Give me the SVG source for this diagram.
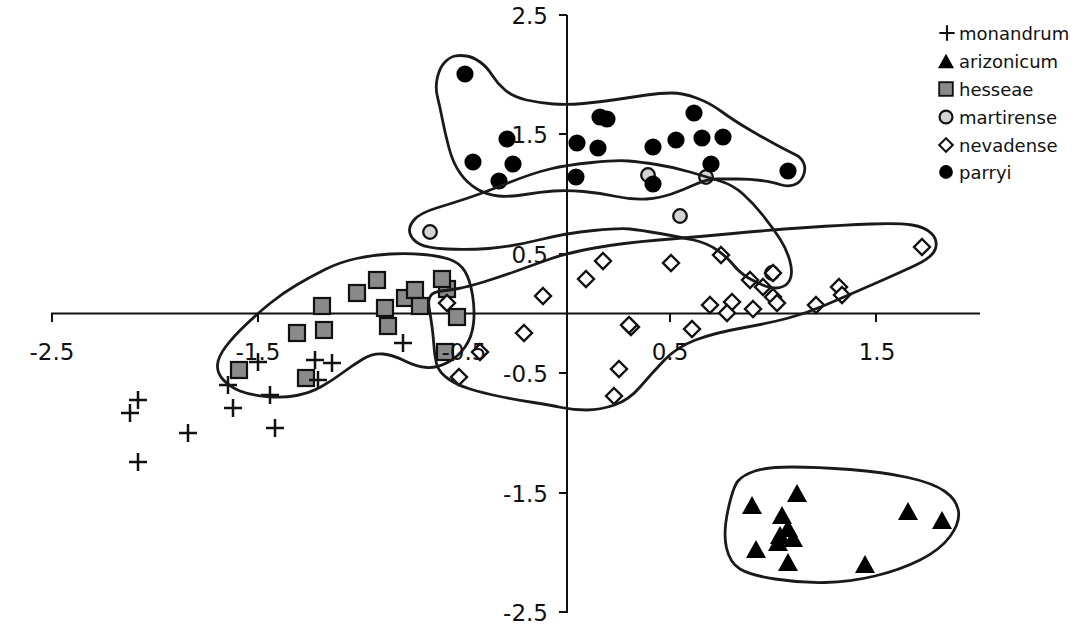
<svg xmlns="http://www.w3.org/2000/svg" xmlns:xlink="http://www.w3.org/1999/xlink" width="1083" height="629" viewBox="0 0 1083 629">
<style>
.ax{stroke:#111;stroke-width:2;fill:none}
.lbl{font-family:"DejaVu Sans","Liberation Sans",sans-serif;font-size:23px;fill:#111}
.leg{font-family:"DejaVu Sans","Liberation Sans",sans-serif;font-size:18px;fill:#111}
.hull{fill:none;stroke:#1a1a1a;stroke-width:2.8;stroke-linejoin:round}
</style>
<defs>
<path id="cross" d="M-9,0H9M0,-9V9" stroke="#111" stroke-width="2.5" fill="none"/>
<polygon id="tri" points="0,-9 10,9 -10,9" fill="#000"/>
<rect id="sq" x="-8" y="-8" width="16" height="16" fill="#8a8a8a" stroke="#111" stroke-width="2.2"/>
<circle id="mc" r="6.8" fill="#d4d4d4" stroke="#111" stroke-width="2.3"/>
<polygon id="dia" points="0,-8 8,0 0,8 -8,0" fill="#fff" stroke="#111" stroke-width="2.4"/>
<circle id="dot" r="8.6" fill="#000"/>
</defs>
<rect width="1083" height="629" fill="#fff"/>
<g id="axes">
<path class="ax" d="M51,313.5H980M52,313.5V322M258,313.5V322M464,313.5V322M670,313.5V322M876,313.5V322"/>
<path class="ax" d="M567,15V613M559,15H567M559,134H567M559,254H567M559,373H567M559,493H567M559,612H567"/>
</g>
<g id="series-hesseae">
<use href="#sq" x="239" y="370"/><use href="#sq" x="297" y="333"/><use href="#sq" x="324" y="330"/><use href="#sq" x="322" y="306"/><use href="#sq" x="306" y="378"/><use href="#sq" x="357" y="293"/><use href="#sq" x="377" y="280"/><use href="#sq" x="385" y="308"/><use href="#sq" x="388" y="326"/><use href="#sq" x="405" y="298"/><use href="#sq" x="415" y="290"/><use href="#sq" x="420" y="306"/><use href="#sq" x="447" y="289"/><use href="#sq" x="442" y="279"/><use href="#sq" x="457" y="317"/><use href="#sq" x="445" y="352"/>
</g>
<g id="series-monandrum">
<use href="#cross" x="138" y="400"/><use href="#cross" x="130" y="413"/><use href="#cross" x="188" y="433"/><use href="#cross" x="138" y="462"/><use href="#cross" x="233" y="408"/><use href="#cross" x="228" y="385"/><use href="#cross" x="258" y="362"/><use href="#cross" x="275" y="428"/><use href="#cross" x="270" y="395"/><use href="#cross" x="315" y="360"/><use href="#cross" x="332" y="363"/><use href="#cross" x="318" y="380"/><use href="#cross" x="403" y="343"/>
</g>
<g id="series-arizonicum">
<use href="#tri" x="752" y="505"/><use href="#tri" x="797" y="493"/><use href="#tri" x="782" y="515"/><use href="#tri" x="788" y="528"/><use href="#tri" x="780" y="535"/><use href="#tri" x="793" y="538"/><use href="#tri" x="778" y="542"/><use href="#tri" x="756" y="549"/><use href="#tri" x="788" y="562"/><use href="#tri" x="865" y="564"/><use href="#tri" x="908" y="511"/><use href="#tri" x="942" y="520"/>
</g>
<g id="series-martirense">
<use href="#mc" x="430" y="232"/><use href="#mc" x="680" y="216"/><use href="#mc" x="648" y="175"/><use href="#mc" x="706" y="177"/><use href="#mc" x="772" y="273"/>
</g>
<g id="series-nevadense">
<use href="#dia" x="447" y="303"/><use href="#dia" x="480" y="352"/><use href="#dia" x="459" y="377"/><use href="#dia" x="524" y="333"/><use href="#dia" x="543" y="296"/><use href="#dia" x="586" y="279"/><use href="#dia" x="603" y="261"/><use href="#dia" x="671" y="263"/><use href="#dia" x="721" y="255"/><use href="#dia" x="750" y="280"/><use href="#dia" x="763" y="287"/><use href="#dia" x="773" y="297"/><use href="#dia" x="777" y="303"/><use href="#dia" x="773" y="273"/><use href="#dia" x="710" y="305"/><use href="#dia" x="732" y="302"/><use href="#dia" x="727" y="313"/><use href="#dia" x="753" y="309"/><use href="#dia" x="816" y="305"/><use href="#dia" x="839" y="287"/><use href="#dia" x="842" y="295"/><use href="#dia" x="922" y="247"/><use href="#dia" x="631" y="327"/><use href="#dia" x="629" y="325"/><use href="#dia" x="692" y="329"/><use href="#dia" x="619" y="369"/><use href="#dia" x="614" y="396"/>
</g>
<g id="series-parryi">
<use href="#dot" x="465" y="74"/><use href="#dot" x="507" y="139"/><use href="#dot" x="473" y="162"/><use href="#dot" x="513" y="164"/><use href="#dot" x="499" y="181"/><use href="#dot" x="577" y="143"/><use href="#dot" x="576" y="177"/><use href="#dot" x="600" y="117"/><use href="#dot" x="607" y="119"/><use href="#dot" x="598" y="148"/><use href="#dot" x="653" y="147"/><use href="#dot" x="676" y="140"/><use href="#dot" x="694" y="113"/><use href="#dot" x="702" y="138"/><use href="#dot" x="723" y="137"/><use href="#dot" x="711" y="164"/><use href="#dot" x="788" y="171"/><use href="#dot" x="653" y="184"/>
</g>
<g id="hulls">
<path id="hull-parryi" class="hull" d="M455,56 Q460,55 466.5,56 Q473,57 480,62 Q487,67 492,75 Q497,83 505,90 Q513,97 526.5,100 Q540,103 553.5,104 Q567,105 583.5,103.5 Q600,102 616.5,99.5 Q633,97 646.5,95 Q660,93 671.5,93 Q683,93 696.5,98 Q710,103 721.5,111.5 Q733,120 750,130 Q767,140 778.5,146 Q790,152 796,155 Q802,158 804,164 Q806,170 803,176.5 Q800,183 793.5,185 Q787,187 780,184.5 Q773,182 761.5,180.5 Q750,179 738.5,179 Q727,179 717,179 Q707,179 695,184.5 Q683,190 671.5,194 Q660,198 646.5,199 Q633,200 616.5,196.5 Q600,193 583.5,191.5 Q567,190 553.5,191 Q540,192 525,194.5 Q510,197 498.5,196 Q487,195 477,189 Q467,183 460,173 Q453,163 449,148 Q445,133 442.5,120 Q440,107 437.5,97 Q435,87 437.5,77 Q440,67 445,62 Q450,57 455,56 Z"/>
<path id="hull-martirense" class="hull" d="M410,233.5 Q408,227 414,220 Q420,213 436.5,208 Q453,203 468,198 Q483,193 508,183 Q533,173 550,169 Q567,165 592,162.5 Q617,160 628.5,161 Q640,162 656.5,164.5 Q673,167 690,172 Q707,177 720,181 Q733,185 743,194 Q753,203 763,215.5 Q773,228 780,239 Q787,250 790,261.5 Q793,273 790,279.5 Q787,286 780,287.5 Q773,289 765,286 Q757,283 748.5,278 Q740,273 733.5,265 Q727,257 717,250 Q707,243 693.5,240 Q680,237 660,233.5 Q640,230 630,229 Q620,228 593.5,230.5 Q567,233 538.5,240 Q510,247 488.5,248.5 Q467,250 447,249 Q427,248 419.5,244 Q412,240 410,233.5 Z"/>
<path id="hull-hesseae" class="hull" d="M217.5,365 Q218,357 225.5,347 Q233,337 245.5,325 Q258,313 270.5,303 Q283,293 296.5,285 Q310,277 325,269.5 Q340,262 356.5,258.5 Q373,255 390,254 Q407,253 423.5,254.5 Q440,256 450,259.5 Q460,263 465,271.5 Q470,280 472.5,295 Q475,310 473.5,323.5 Q472,337 465,347 Q458,357 447.5,362.5 Q437,368 427,367.5 Q417,367 405,361 Q393,355 383,354 Q373,353 363,359 Q353,365 343,372.5 Q333,380 321.5,386.5 Q310,393 296.5,395.5 Q283,398 266.5,396.5 Q250,395 240,391 Q230,387 223.5,380 Q217,373 217.5,365 Z"/>
<path id="hull-nevadense" class="hull" d="M431.5,323 Q430,313 429,306.5 Q428,300 430.5,296 Q433,292 441.5,291 Q450,290 458.5,288.5 Q467,287 483.5,282 Q500,277 516.5,271 Q533,265 550,259 Q567,253 594.5,248 Q622,243 659,240 Q696,237 733,233.5 Q770,230 807,227.5 Q844,225 871.5,224 Q899,223 912,225 Q925,227 931.5,233.5 Q938,240 935.5,248.5 Q933,257 916,265 Q899,273 871.5,285 Q844,297 825.5,305 Q807,313 788.5,318 Q770,323 742,328 Q714,333 695.5,340 Q677,347 664.5,360 Q652,373 640.5,386.5 Q629,400 614.5,405 Q600,410 586.5,410 Q573,410 561.5,407.5 Q550,405 533.5,402.5 Q517,400 500,396.5 Q483,393 470,389 Q457,385 448.5,379 Q440,373 437.5,366.5 Q435,360 434,346.5 Q433,333 431.5,323 Z"/>
<path id="hull-arizonicum" class="hull" d="M728,510 Q733,487 738,481 Q743,475 755,471 Q767,467 792,467 Q817,467 850,469.5 Q883,472 908,477.5 Q933,483 945,491.5 Q957,500 958.5,511.5 Q960,523 950,536.5 Q940,550 920,560 Q900,570 875,576 Q850,582 825,582.5 Q800,583 775,579 Q750,575 740,569 Q730,563 726.5,548 Q723,533 728,510 Z"/>
</g>
<g id="axis-labels">
<text class="lbl" x="52" y="360" text-anchor="middle">-2.5</text>
<text class="lbl" x="258" y="360" text-anchor="middle">-1.5</text>
<text class="lbl" x="464" y="360" text-anchor="middle">-0.5</text>
<text class="lbl" x="670" y="360" text-anchor="middle">0.5</text>
<text class="lbl" x="877" y="360" text-anchor="middle">1.5</text>
<text class="lbl" x="548" y="23.5" text-anchor="end">2.5</text>
<text class="lbl" x="548" y="142.5" text-anchor="end">1.5</text>
<text class="lbl" x="548" y="262.5" text-anchor="end">0.5</text>
<text class="lbl" x="548" y="381.5" text-anchor="end">-0.5</text>
<text class="lbl" x="548" y="501.5" text-anchor="end">-1.5</text>
<text class="lbl" x="548" y="620.5" text-anchor="end">-2.5</text>
</g>
<g id="legend">
<g id="legend-monandrum"><use href="#cross" transform="translate(947,33) scale(0.85)"/><text class="leg" x="959" y="39.5">monandrum</text></g>
<g id="legend-arizonicum"><use href="#tri" transform="translate(946,61) scale(0.8)"/><text class="leg" x="959" y="67.5">arizonicum</text></g>
<g id="legend-hesseae"><use href="#sq" transform="translate(946,89) scale(0.85)"/><text class="leg" x="959" y="95.5">hesseae</text></g>
<g id="legend-martirense"><use href="#mc" transform="translate(946,117) scale(0.95)"/><text class="leg" x="959" y="123.5">martirense</text></g>
<g id="legend-nevadense"><use href="#dia" transform="translate(946,145) scale(0.85)"/><text class="leg" x="959" y="151.5">nevadense</text></g>
<g id="legend-parryi"><use href="#dot" transform="translate(946,172) scale(0.8)"/><text class="leg" x="959" y="178.5">parryi</text></g>
</g>
</svg>
